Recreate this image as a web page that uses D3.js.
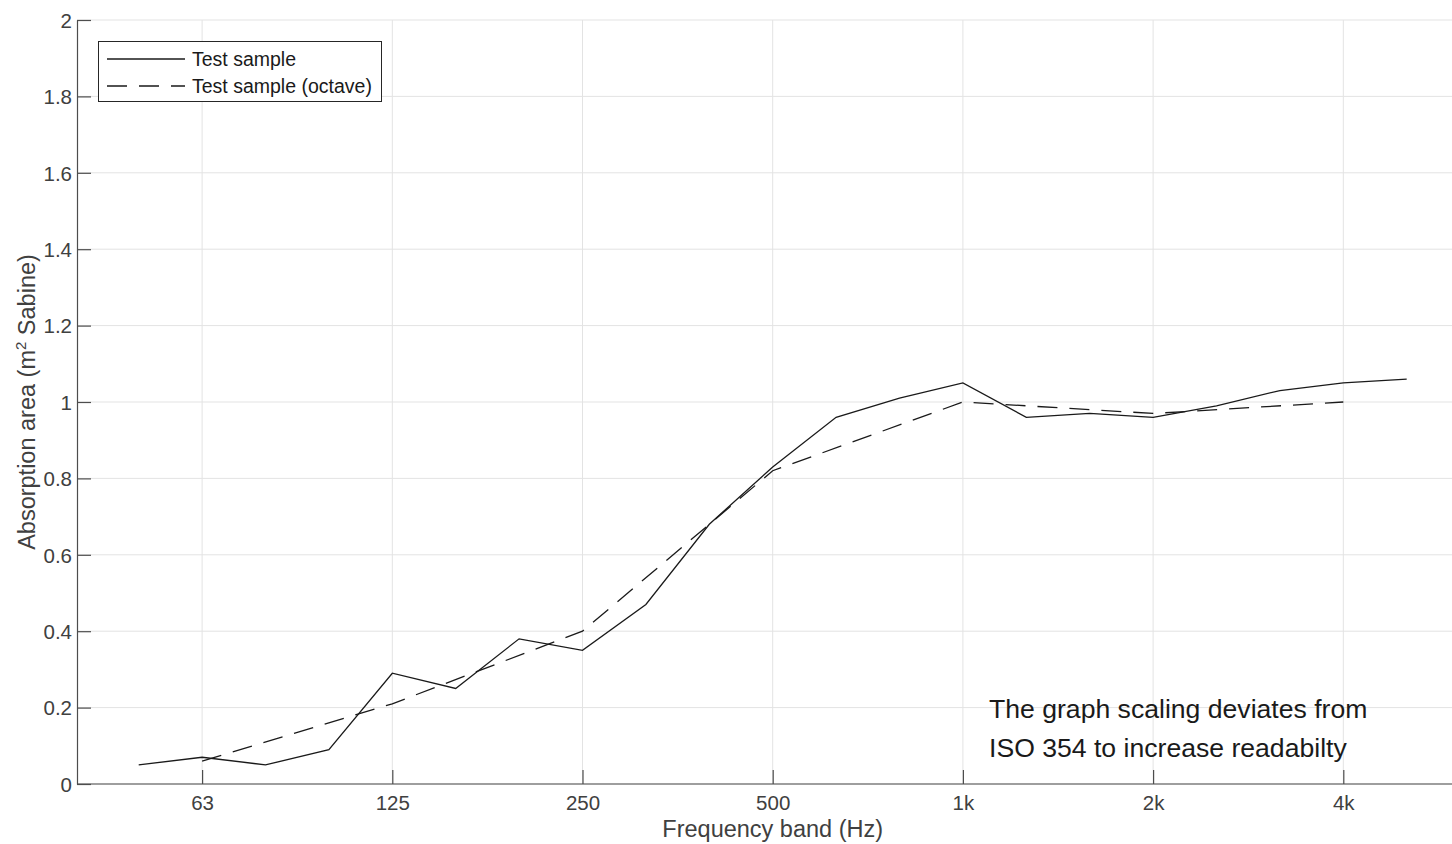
<!DOCTYPE html>
<html>
<head>
<meta charset="utf-8">
<script src="https://cdn.jsdelivr.net/npm/d3@7"></script>
<style>
  body { margin: 0; background: #fff; }
  svg text { font-family: "Liberation Sans", Arial, sans-serif; }
</style>
</head>
<body>
<svg id="chart" width="1452" height="844"></svg>
<script>
// third-octave bands (Hz) and measured absorption area
const bands = [50, 63, 80, 100, 125, 160, 200, 250, 315, 400, 500, 630, 800,
  1000, 1250, 1600, 2000, 2500, 3150, 4000, 5000];
const thirdValues = [0.05, 0.07, 0.05, 0.09, 0.29, 0.25, 0.38, 0.35, 0.47, 0.68,
  0.83, 0.96, 1.01, 1.05, 0.96, 0.97, 0.96, 0.99, 1.03, 1.05, 1.06];

// octave bands
const octaveBands = [63, 125, 250, 500, 1000, 2000, 4000];
const octaveValues = [0.06, 0.21, 0.40, 0.82, 1.00, 0.97, 1.00];

const tickBands = [63, 125, 250, 500, 1000, 2000, 4000];
const tickLabels = ["63", "125", "250", "500", "1k", "2k", "4k"];
const yTicks = [0, 0.2, 0.4, 0.6, 0.8, 1, 1.2, 1.4, 1.6, 1.8, 2];

const margin = { left: 77, top: 20, bottom: 60 };
const height = 844;

// band index on the axis (40 Hz band = 0)
const allBands = [40].concat(bands);
const idx = f => allBands.indexOf(f);

const svg = d3.select("#chart");

const x = d3.scaleLinear().domain([0, 22]).range([75.3, 75.3 + 22 * 63.4]);
const y = d3.scaleLinear().domain([0, 2]).range([height - margin.bottom, margin.top]);

// grid
const grid = svg.append("g").attr("stroke", "#e3e3e3").attr("stroke-width", 1);
grid.selectAll(".gx").data(tickBands).enter().append("line")
  .attr("x1", d => x(idx(d))).attr("x2", d => x(idx(d)))
  .attr("y1", y(0)).attr("y2", y(2));
grid.selectAll(".gy").data(yTicks).enter().append("line")
  .attr("x1", margin.left).attr("x2", 1452)
  .attr("y1", d => y(d)).attr("y2", d => y(d));

// axes, ticks inward
const xAxis = d3.axisBottom(x)
  .tickValues(tickBands.map(idx))
  .tickFormat((d, i) => tickLabels[i])
  .tickSize(-14).tickPadding(20).tickSizeOuter(0);
const gx = svg.append("g").attr("transform", `translate(0,${y(0)})`).call(xAxis);

const yAxis = d3.axisLeft(y)
  .tickValues(yTicks)
  .tickFormat(d => d)
  .tickSize(-14).tickPadding(24).tickSizeOuter(0);
const gy = svg.append("g").attr("transform", `translate(${margin.left},0)`).call(yAxis);

[gx, gy].forEach(g => {
  g.attr("font-family", null).attr("font-size", null);
  g.select(".domain").attr("stroke", "#4d4d4d").attr("stroke-width", 1.2);
  g.selectAll(".tick line").attr("stroke", "#4d4d4d").attr("stroke-width", 1.2);
  g.selectAll("text").attr("fill", "#404040").attr("font-size", 20.5);
});
gx.select(".domain").attr("d", `M${margin.left},0H1452`);
gx.selectAll("text").attr("dy", null).attr("y", 26);
gy.selectAll("text").attr("x", -5).attr("dy", "0.36em");

// axis labels
svg.append("text")
  .attr("x", x(idx(500))).attr("y", 837)
  .attr("text-anchor", "middle").attr("font-size", 23.5).attr("fill", "#404040")
  .text("Frequency band (Hz)");

const yl = svg.append("text")
  .attr("transform", `translate(35,${y(1)}) rotate(-90)`)
  .attr("text-anchor", "middle").attr("font-size", 23.5).attr("fill", "#404040");
yl.append("tspan").text("Absorption area (m");
yl.append("tspan").attr("font-size", 15).attr("dy", -9).text("2");
yl.append("tspan").attr("dy", 9).text(" Sabine)");

// lines
const line = d3.line().x(d => x(idx(d[0]))).y(d => y(d[1]));

svg.append("path")
  .datum(d3.zip(bands, thirdValues))
  .attr("fill", "none").attr("stroke", "#1a1a1a").attr("stroke-width", 1.3)
  .attr("d", line);

svg.append("path")
  .datum(d3.zip(octaveBands, octaveValues))
  .attr("fill", "none").attr("stroke", "#1a1a1a").attr("stroke-width", 1.3)
  .attr("stroke-dasharray", "20,12")
  .attr("d", line);

// legend
const lg = svg.append("g");
lg.append("rect").attr("x", 98.5).attr("y", 41.5).attr("width", 283).attr("height", 60)
  .attr("fill", "#fff").attr("stroke", "#262626").attr("stroke-width", 1);
const items = [["Test sample", null], ["Test sample (octave)", "20,12"]];
items.forEach((it, i) => {
  const yy = 59 + i * 27;
  lg.append("line").attr("x1", 107).attr("x2", 185).attr("y1", yy).attr("y2", yy)
    .attr("stroke", "#1a1a1a").attr("stroke-width", 1.3)
    .attr("stroke-dasharray", it[1]);
  lg.append("text").attr("x", 192).attr("y", yy + 6.5).attr("font-size", 19.5)
    .attr("fill", "#1a1a1a").text(it[0]);
});

// note
const note = ["The graph scaling deviates from", "ISO 354 to increase readabilty"];
svg.selectAll(".note").data(note).enter().append("text")
  .attr("x", 989).attr("y", (d, i) => 718 + i * 39)
  .attr("font-size", 26.6).attr("fill", "#1a1a1a").text(d => d);
</script>
</body>
</html>
